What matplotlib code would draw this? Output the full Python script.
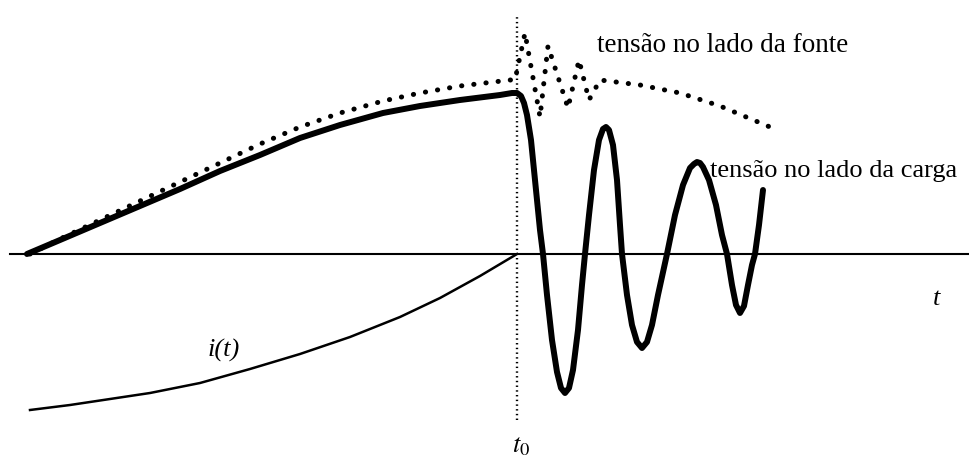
#importing libraries
import numpy as np
import matplotlib.pyplot as plt

plt.rcParams['font.family'] = ['Liberation Serif', 'DejaVu Serif']
plt.rcParams['mathtext.fontset'] = 'stix'

#load side voltage (time, value above the axis)
t_load = [27, 60, 100, 140, 180, 220, 260, 300, 340, 383, 420, 460, 500, 512, 517, 521, 524,
          527, 531, 536, 540, 543, 547, 552, 557, 561, 565, 569, 573, 578, 582, 585, 589,
          594, 599, 603, 606, 609, 613, 617, 620, 622, 627, 632, 637, 642, 647, 652, 658,
          667, 675, 683, 690, 694, 697, 700, 703, 709, 716, 722, 727, 732, 736, 740, 744,
          748, 752, 755, 759, 763]
v_load = [0, 14, 31, 48, 65, 83, 99, 116, 129, 141, 148, 154, 159, 161, 161, 158, 151,
          139, 114, 64, 24, 0, -41, -86, -118, -134, -139, -134, -116, -76, -31, 0, 39,
          84, 114, 125, 127, 124, 109, 74, 29, 0, -41, -71, -88, -94, -88, -71, -41,
          0, 39, 69, 86, 90, 92, 91, 87, 74, 49, 19, 0, -31, -51, -59, -52,
          -31, -11, 0, 29, 64]

#source side voltage
t_src = [30, 60, 100, 140, 180, 220, 260, 300, 340, 383, 420, 460, 510, 515, 525, 540,
         548, 568, 579, 589, 600, 640, 680, 720, 770]
v_src = [0, 15, 34, 53, 72, 91, 110, 127, 141, 153, 161, 168, 174, 174, 221, 137,
         208, 146, 194, 154, 174, 169, 161, 148, 127]

#current i(t)
t_cur = [30, 70, 110, 150, 200, 250, 300, 350, 400, 440, 480, 517]
i_cur = [-156, -151, -145, -139, -129, -115, -100, -83, -63, -44, -22, 0]

t0 = 517

fig = plt.figure(figsize=(9.7, 4.58), dpi=100)
ax = fig.add_axes([0, 0, 1, 1])
ax.set_xlim(0, 970)
ax.set_ylim(-204, 254)
ax.axis('off')

#time axis
ax.plot([10, 970], [0, 0], color='black', lw=1.5)
#switching instant
ax.plot([t0, t0], [-166, 239], color='black', lw=1.7, linestyle=(0, (0.6, 1.4)))

ax.plot(t_load, v_load, color='black', lw=4.3, solid_joinstyle='round', solid_capstyle='round')
ax.plot(t_src, v_src, color='black', lw=3.6, linestyle=(0, (0.05, 2.4)),
        dash_capstyle='round', dash_joinstyle='round')
ax.plot(t_cur, i_cur, color='black', lw=1.8, solid_joinstyle='round')

ax.text(597, 202, 'tensão no lado da fonte', fontsize=19.5, va='baseline')
ax.text(710, 77, 'tensão no lado da carga', fontsize=19, va='baseline')
ax.text(208, -103, 'i(t)', fontsize=19, style='italic', va='baseline')
ax.text(933, -51, 't', fontsize=19, style='italic', va='baseline')
ax.text(512, -198, r'$t_{\mathit{0}}$', fontsize=19, va='baseline')

plt.savefig('out.png', dpi=100)
